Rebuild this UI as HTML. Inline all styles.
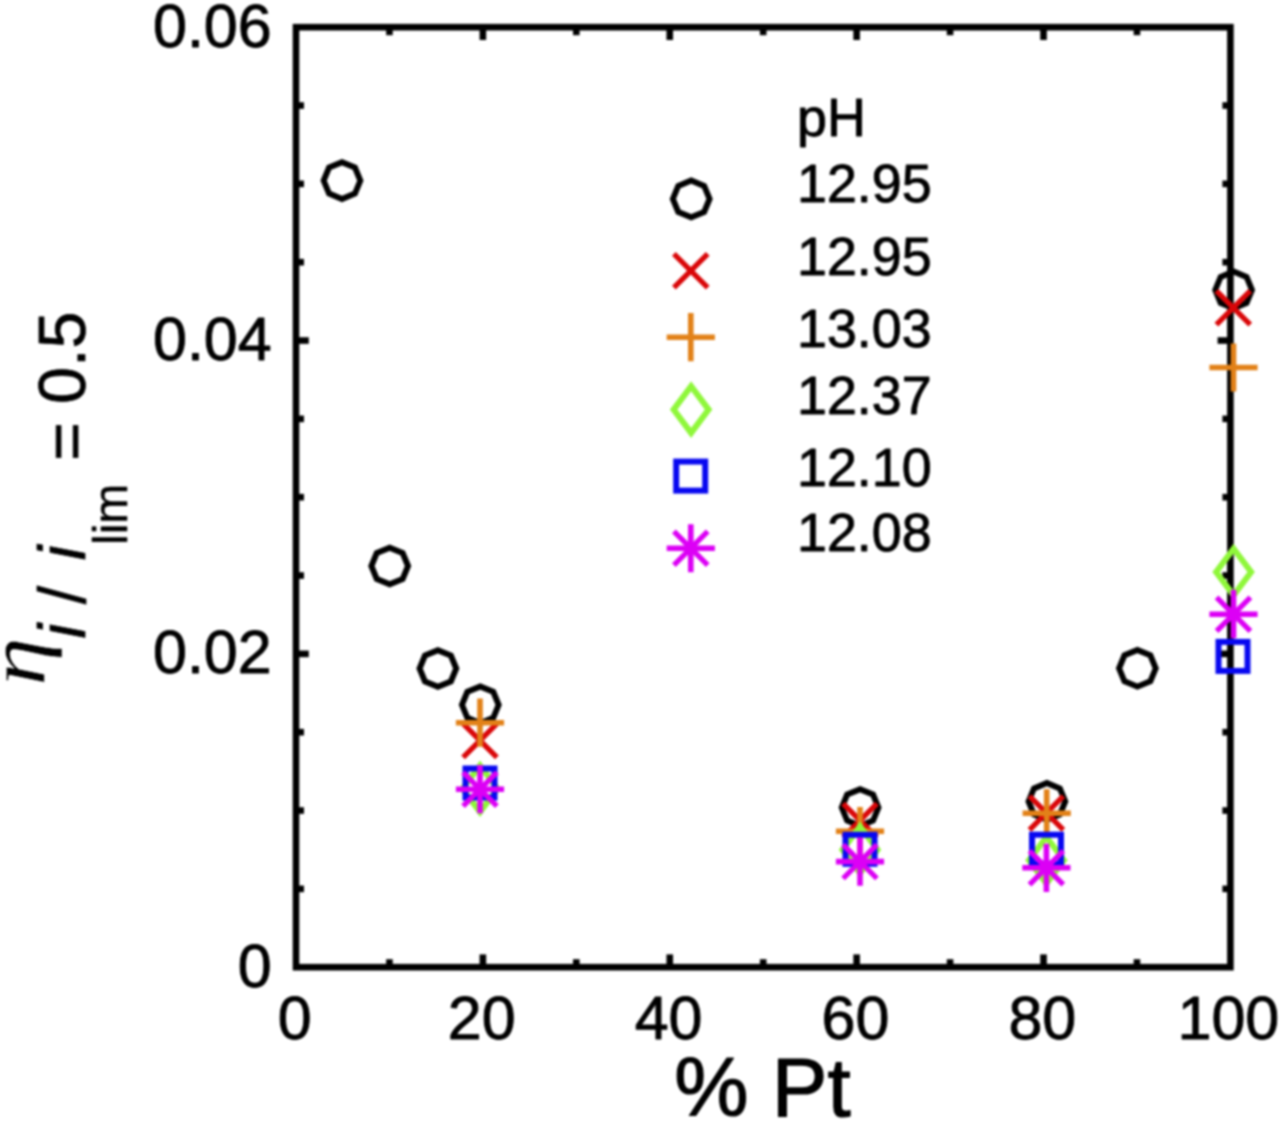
<!DOCTYPE html><html><head><meta charset="utf-8"><title>plot</title>
<style>html,body{margin:0;padding:0;background:#fff}svg{display:block}text{font-family:"Liberation Sans",sans-serif;fill:#000;stroke:#000;stroke-linejoin:round}</style></head><body>
<svg width="1280" height="1123" viewBox="0 0 1280 1123">
<rect width="1280" height="1123" fill="#fff"/>
<defs><filter id="soft" x="0" y="0" width="100%" height="100%" filterUnits="userSpaceOnUse" color-interpolation-filters="sRGB"><feGaussianBlur stdDeviation="0.8"/></filter></defs>
<g filter="url(#soft)">
<g fill="#000">
<rect x="386.14" y="959.20" width="6.6" height="8.00"/>
<rect x="386.14" y="27.20" width="6.6" height="8.00"/>
<rect x="479.58" y="954.40" width="6.6" height="12.80"/>
<rect x="479.58" y="27.20" width="6.6" height="12.80"/>
<rect x="573.02" y="959.20" width="6.6" height="8.00"/>
<rect x="573.02" y="27.20" width="6.6" height="8.00"/>
<rect x="666.46" y="954.40" width="6.6" height="12.80"/>
<rect x="666.46" y="27.20" width="6.6" height="12.80"/>
<rect x="759.90" y="959.20" width="6.6" height="8.00"/>
<rect x="759.90" y="27.20" width="6.6" height="8.00"/>
<rect x="853.34" y="954.40" width="6.6" height="12.80"/>
<rect x="853.34" y="27.20" width="6.6" height="12.80"/>
<rect x="946.78" y="959.20" width="6.6" height="8.00"/>
<rect x="946.78" y="27.20" width="6.6" height="8.00"/>
<rect x="1040.22" y="954.40" width="6.6" height="12.80"/>
<rect x="1040.22" y="27.20" width="6.6" height="12.80"/>
<rect x="1133.66" y="959.20" width="6.6" height="8.00"/>
<rect x="1133.66" y="27.20" width="6.6" height="8.00"/>
<rect x="296.00" y="885.57" width="8.00" height="6.6"/>
<rect x="1222.40" y="885.57" width="8.00" height="6.6"/>
<rect x="296.00" y="807.23" width="8.00" height="6.6"/>
<rect x="1222.40" y="807.23" width="8.00" height="6.6"/>
<rect x="296.00" y="728.90" width="8.00" height="6.6"/>
<rect x="1222.40" y="728.90" width="8.00" height="6.6"/>
<rect x="296.00" y="650.57" width="12.80" height="6.6"/>
<rect x="1217.60" y="650.57" width="12.80" height="6.6"/>
<rect x="296.00" y="572.23" width="8.00" height="6.6"/>
<rect x="1222.40" y="572.23" width="8.00" height="6.6"/>
<rect x="296.00" y="493.90" width="8.00" height="6.6"/>
<rect x="1222.40" y="493.90" width="8.00" height="6.6"/>
<rect x="296.00" y="415.57" width="8.00" height="6.6"/>
<rect x="1222.40" y="415.57" width="8.00" height="6.6"/>
<rect x="296.00" y="337.23" width="12.80" height="6.6"/>
<rect x="1217.60" y="337.23" width="12.80" height="6.6"/>
<rect x="296.00" y="258.90" width="8.00" height="6.6"/>
<rect x="1222.40" y="258.90" width="8.00" height="6.6"/>
<rect x="296.00" y="180.57" width="8.00" height="6.6"/>
<rect x="1222.40" y="180.57" width="8.00" height="6.6"/>
<rect x="296.00" y="102.23" width="8.00" height="6.6"/>
<rect x="1222.40" y="102.23" width="8.00" height="6.6"/>
</g>
<rect x="296.0" y="27.2" width="934.40" height="940.00" fill="none" stroke="#000" stroke-width="6.6" stroke-linejoin="miter"/>
<g>
<polygon points="709.55,198.90 704.18,185.92 691.20,180.55 678.22,185.92 672.85,198.90 678.22,211.88 691.20,217.25 704.18,211.88" fill="none" stroke="#000" stroke-width="5.9" stroke-linejoin="miter"/>
<polygon points="360.35,180.60 354.98,167.62 342.00,162.25 329.02,167.62 323.65,180.60 329.02,193.58 342.00,198.95 354.98,193.58" fill="none" stroke="#000" stroke-width="5.9" stroke-linejoin="miter"/>
<polygon points="408.05,566.00 402.68,553.02 389.70,547.65 376.72,553.02 371.35,566.00 376.72,578.98 389.70,584.35 402.68,578.98" fill="none" stroke="#000" stroke-width="5.9" stroke-linejoin="miter"/>
<polygon points="456.25,668.50 450.88,655.52 437.90,650.15 424.92,655.52 419.55,668.50 424.92,681.48 437.90,686.85 450.88,681.48" fill="none" stroke="#000" stroke-width="5.9" stroke-linejoin="miter"/>
<polygon points="498.65,704.80 493.28,691.82 480.30,686.45 467.32,691.82 461.95,704.80 467.32,717.78 480.30,723.15 493.28,717.78" fill="none" stroke="#000" stroke-width="5.9" stroke-linejoin="miter"/>
<polygon points="878.45,807.60 873.08,794.62 860.10,789.25 847.12,794.62 841.75,807.60 847.12,820.58 860.10,825.95 873.08,820.58" fill="none" stroke="#000" stroke-width="5.9" stroke-linejoin="miter"/>
<polygon points="1065.25,801.40 1059.88,788.42 1046.90,783.05 1033.92,788.42 1028.55,801.40 1033.92,814.38 1046.90,819.75 1059.88,814.38" fill="none" stroke="#000" stroke-width="5.9" stroke-linejoin="miter"/>
<polygon points="1155.75,668.30 1150.38,655.32 1137.40,649.95 1124.42,655.32 1119.05,668.30 1124.42,681.28 1137.40,686.65 1150.38,681.28" fill="none" stroke="#000" stroke-width="5.9" stroke-linejoin="miter"/>
<polygon points="1251.95,289.90 1246.58,276.92 1233.60,271.55 1220.62,276.92 1215.25,289.90 1220.62,302.88 1233.60,308.25 1246.58,302.88" fill="none" stroke="#000" stroke-width="5.9" stroke-linejoin="miter"/>
<path d="M673.90 253.90L707.70 287.70M673.90 287.70L707.70 253.90" fill="none" stroke="#d90608" stroke-width="5.3"/>
<path d="M463.10 723.60L496.90 757.40M463.10 757.40L496.90 723.60" fill="none" stroke="#d90608" stroke-width="5.3"/>
<path d="M843.10 803.60L876.90 837.40M843.10 837.40L876.90 803.60" fill="none" stroke="#d90608" stroke-width="5.3"/>
<path d="M1029.50 796.10L1063.30 829.90M1029.50 829.90L1063.30 796.10" fill="none" stroke="#d90608" stroke-width="5.3"/>
<path d="M1216.40 290.80L1250.20 324.60M1216.40 324.60L1250.20 290.80" fill="none" stroke="#d90608" stroke-width="5.3"/>
<path d="M666.70 337.20H714.90M690.80 313.10V361.30" fill="none" stroke="#e28118" stroke-width="5.6"/>
<path d="M455.90 722.70H504.10M480.00 698.60V746.80" fill="none" stroke="#e28118" stroke-width="5.6"/>
<path d="M835.90 831.20H884.10M860.00 807.10V855.30" fill="none" stroke="#e28118" stroke-width="5.6"/>
<path d="M1022.60 813.30H1070.80M1046.70 789.20V837.40" fill="none" stroke="#e28118" stroke-width="5.6"/>
<path d="M1209.40 367.50H1257.60M1233.50 343.40V391.60" fill="none" stroke="#e28118" stroke-width="5.6"/>
<polygon points="673.60,409.60 691.10,386.30 708.60,409.60 691.10,432.90" fill="none" stroke="#8ff73a" stroke-width="6.0" stroke-linejoin="miter"/>
<polygon points="462.50,788.80 480.00,765.50 497.50,788.80 480.00,812.10" fill="none" stroke="#8ff73a" stroke-width="6.0" stroke-linejoin="miter"/>
<polygon points="842.50,849.80 860.00,826.50 877.50,849.80 860.00,873.10" fill="none" stroke="#8ff73a" stroke-width="6.0" stroke-linejoin="miter"/>
<polygon points="1028.90,860.30 1046.40,837.00 1063.90,860.30 1046.40,883.60" fill="none" stroke="#8ff73a" stroke-width="6.0" stroke-linejoin="miter"/>
<polygon points="1216.10,572.00 1233.60,548.70 1251.10,572.00 1233.60,595.30" fill="none" stroke="#8ff73a" stroke-width="6.0" stroke-linejoin="miter"/>
<rect x="676.20" y="461.60" width="29.0" height="29.0" fill="none" stroke="#0808f0" stroke-width="6.0"/>
<rect x="465.50" y="768.50" width="29.0" height="29.0" fill="none" stroke="#0808f0" stroke-width="6.0"/>
<rect x="845.50" y="834.80" width="29.0" height="29.0" fill="none" stroke="#0808f0" stroke-width="6.0"/>
<rect x="1032.00" y="834.70" width="29.0" height="29.0" fill="none" stroke="#0808f0" stroke-width="6.0"/>
<rect x="1218.50" y="641.90" width="29.0" height="29.0" fill="none" stroke="#0808f0" stroke-width="6.0"/>
<path d="M666.70 548.25H714.90M690.80 524.15V572.35" fill="none" stroke="#dc00f5" stroke-width="5.6"/><path d="M673.90 531.35L707.70 565.15M673.90 565.15L707.70 531.35" fill="none" stroke="#dc00f5" stroke-width="5.3"/>
<path d="M455.90 789.20H504.10M480.00 765.10V813.30" fill="none" stroke="#dc00f5" stroke-width="5.6"/><path d="M463.10 772.30L496.90 806.10M463.10 806.10L496.90 772.30" fill="none" stroke="#dc00f5" stroke-width="5.3"/>
<path d="M835.90 861.60H884.10M860.00 837.50V885.70" fill="none" stroke="#dc00f5" stroke-width="5.6"/><path d="M843.10 844.70L876.90 878.50M843.10 878.50L876.90 844.70" fill="none" stroke="#dc00f5" stroke-width="5.3"/>
<path d="M1022.30 867.80H1070.50M1046.40 843.70V891.90" fill="none" stroke="#dc00f5" stroke-width="5.6"/><path d="M1029.50 850.90L1063.30 884.70M1029.50 884.70L1063.30 850.90" fill="none" stroke="#dc00f5" stroke-width="5.3"/>
<path d="M1209.40 614.20H1257.60M1233.50 590.10V638.30" fill="none" stroke="#dc00f5" stroke-width="5.6"/><path d="M1216.60 597.30L1250.40 631.10M1216.60 631.10L1250.40 597.30" fill="none" stroke="#dc00f5" stroke-width="5.3"/>
</g>
<text x="294.80" y="1039.3" font-size="61" stroke-width="0.9" text-anchor="middle">0</text>
<text x="481.68" y="1039.3" font-size="61" stroke-width="0.9" text-anchor="middle">20</text>
<text x="668.56" y="1039.3" font-size="61" stroke-width="0.9" text-anchor="middle">40</text>
<text x="855.44" y="1039.3" font-size="61" stroke-width="0.9" text-anchor="middle">60</text>
<text x="1042.32" y="1039.3" font-size="61" stroke-width="0.9" text-anchor="middle">80</text>
<text x="1228.40" y="1039.3" font-size="61" stroke-width="0.9" text-anchor="middle">100</text>
<text x="271.7" y="986.60" font-size="61" stroke-width="0.9" text-anchor="end">0</text>
<text x="271.7" y="673.27" font-size="61" stroke-width="0.9" text-anchor="end">0.02</text>
<text x="271.7" y="359.93" font-size="61" stroke-width="0.9" text-anchor="end">0.04</text>
<text x="271.7" y="46.60" font-size="61" stroke-width="0.9" text-anchor="end">0.06</text>
<text x="762.5" y="1116.2" font-size="83.5" stroke-width="1.2" text-anchor="middle">% Pt</text>
<text x="797" y="136.2" font-size="53.8" stroke-width="0.9">pH</text>
<text x="797" y="202.4" font-size="53.8" stroke-width="0.9">12.95</text>
<text x="797" y="274.5" font-size="53.8" stroke-width="0.9">12.95</text>
<text x="797" y="346.8" font-size="53.8" stroke-width="0.9">13.03</text>
<text x="797" y="413.9" font-size="53.8" stroke-width="0.9">12.37</text>
<text x="797" y="485.7" font-size="53.8" stroke-width="0.9">12.10</text>
<text x="797" y="550.5" font-size="53.8" stroke-width="0.9">12.08</text>
<text transform="translate(43.5 685.7) rotate(-90) scale(1.185 1)" font-size="82.7" stroke-width="0.4" style="font-family:'Liberation Serif',serif;font-style:italic;stroke:#fff">η</text>
<text transform="translate(85.2 638.5) rotate(-90)" font-size="66.5" stroke-width="0.73" style="font-style:italic">i</text>
<text transform="translate(85.2 604.3) rotate(-90)" font-size="66.5" stroke-width="0.73" >/</text>
<text transform="translate(85.2 560.2) rotate(-90)" font-size="66.5" stroke-width="0.73" style="font-style:italic">i</text>
<text transform="translate(126.6 545) rotate(-90)" font-size="48" stroke-width="0.53" >lim</text>
<text transform="translate(89.3 461.0) rotate(-90)" font-size="66.5" stroke-width="0.73" >=</text>
<text transform="translate(85.2 403.9) rotate(-90)" font-size="66.5" stroke-width="0.73" >0.5</text>
</g>
</svg></body></html>
